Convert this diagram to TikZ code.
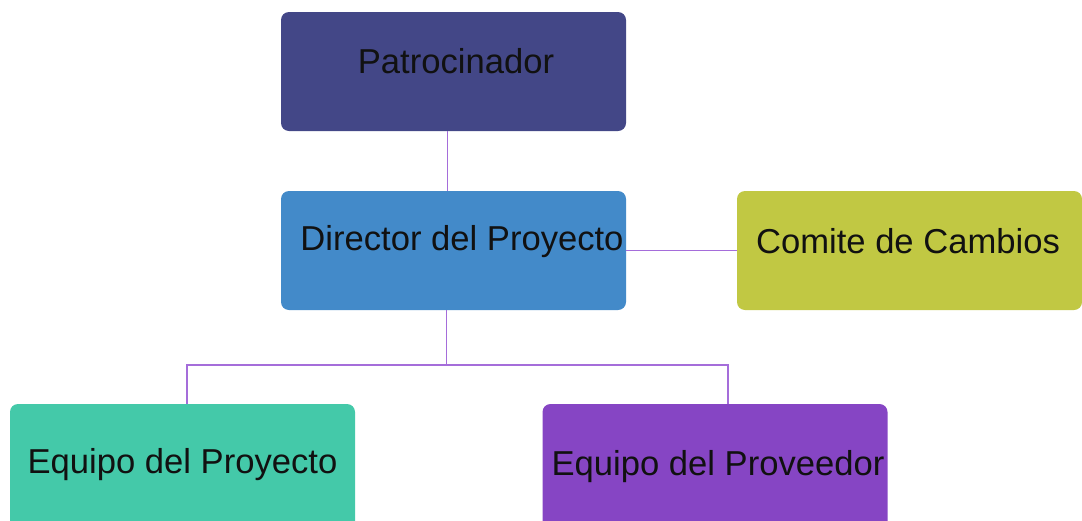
\documentclass[tikz,border=0pt]{standalone}
\usepackage{fontspec}
\setmainfont{Liberation Sans}
\usetikzlibrary{calc}

\definecolor{patcol}{HTML}{434787}
\definecolor{dircol}{HTML}{438AC9}
\definecolor{comcol}{HTML}{C1C843}
\definecolor{eqpcol}{HTML}{44C9A9}
\definecolor{provcol}{HTML}{8645C4}
\definecolor{linkcol}{HTML}{A56DDA}
\definecolor{txtcol}{HTML}{111111}

\tikzset{
	box/.style={rounded corners=4pt, minimum width=172.5pt, minimum height=59.5pt, inner sep=0pt, draw=none},
	txt/.style={text=txtcol, font=\fontsize{17.3}{20}\selectfont, inner sep=0pt},
	link/.style={draw=linkcol, line width=0.6pt}
}

\begin{document}
\begin{tikzpicture}[x=0.5pt,y=-0.5pt]
		
		\useasboundingbox (0,0) rectangle (1082,520);
		\clip (0,0) rectangle (1082,520);
		
		% boxes
		\node[box, fill=patcol] (pat) at (453.5,71.5) {};
		\node[box, fill=dircol] (dir) at (453.5,250.5) {};
		\node[box, fill=comcol] (com) at (909.5,250.5) {};
		\node[box, fill=eqpcol, minimum height=63pt] (eqp) at (182.5,467) {};
		\node[box, fill=provcol, minimum height=63pt] (prov) at (715,467) {};
		
		% texts
		\node[txt] (tpat) at (456,61) {Patrocinador};
		\node[txt] (tdir) at (462,242) {Director del Proyecto};
		\node[txt] (tcom) at (908,241) {Comite de Cambios};
		\node[txt] (teqp) at (182.5,465) {Equipo del Proyecto};
		\node[txt] (tprov) at (718,467) {Equipo del Proveedor};
		
		% connectors
		\draw[link] ($(pat.south)+(-6,0)$) -- ($(dir.north)+(-6,0)$);
		\draw[link] (dir.east) -- (com.west);
		\draw[link] ($(dir.south)+(-7,0)$) -- ++(0,54.5) coordinate (bus);
		\draw[link] ($(eqp.north)+(4.5,0)$) |- (bus) -| ($(prov.north)+(13,0)$);
		
	\end{tikzpicture}
\end{document}
